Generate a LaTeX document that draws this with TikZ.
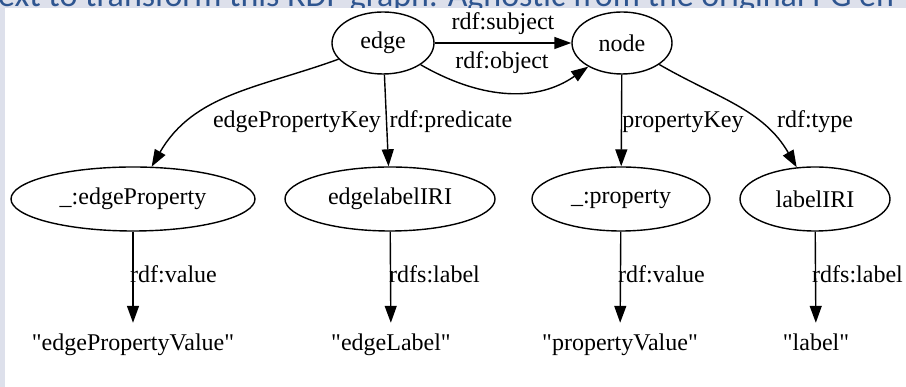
\documentclass[tikz,border=0pt]{standalone}
\usepackage{fontspec}
\setmainfont{Liberation Serif}
\newfontfamily\slidefont{Carlito}
\usepackage{xcolor}
\definecolor{slideBlue}{HTML}{2E5590}
\definecolor{slideGrey}{HTML}{DDE0EB}
\usepackage{tikz}
\usetikzlibrary{arrows.meta,shapes.geometric}

\tikzset{
  res/.style={draw, ellipse, line width=1.4pt, inner sep=0pt, minimum height=64pt},
  lit/.style={inner sep=0pt, minimum height=44pt, text height=17pt, text depth=5pt},
  rel/.style={line width=1.4pt, -{Triangle[length=17pt,width=12pt]}},
  lbl/.style={inner sep=0pt, text height=17pt, text depth=5pt},
}
\newcommand{\qq}[1]{\textquotedbl#1\textquotedbl}

\begin{document}
\begin{tikzpicture}[x=1pt, y=1pt, font=\fontsize{24}{28}\selectfont]
  \useasboundingbox (0,0) rectangle (906,387);
  \clip (0,0) rectangle (906,387);
  % Slide behind the figure
  \fill[slideGrey] (0,0) rectangle (906,387);
  \node[overlay, anchor=base west, inner sep=0pt, text=slideBlue,
        font=\slidefont\fontsize{34}{40}\selectfont] (title) at (-2,380)
        {ext to transform this RDF graph. Agnostic from the original PG en};
  \fill[white] (5,0) rectangle (906,379);
  % Reified edge and its node
  \node[res, minimum width=102pt, minimum height=62pt] (edge) at (383,344) {edge};
  \node[res, minimum width=100pt, minimum height=62pt] (node) at (622,344) {node};
  % Resources one level down
  \node[res, minimum width=244pt] (eprop) at (133,188) {\_:edgeProperty};
  \node[res, minimum width=210pt] (elabel) at (390,188) {edgelabelIRI};
  \node[res, minimum width=178pt] (prop) at (621,188) {\_:property};
  \node[res, minimum width=150pt] (lblIRI) at (815,188) {labelIRI};
  % Literals
  \node[lit] (epval) at (133,42) {\qq{edgePropertyValue}};
  \node[lit] (elval) at (391,42) {\qq{edgeLabel}};
  \node[lit] (pval) at (620,42) {\qq{propertyValue}};
  \node[lit] (lval) at (816,42) {\qq{label}};
  % Connectors
  \draw[rel] (edge) -- (node);
  \draw[rel] (edge) to[out=-30, in=215] (node);
  \draw[rel] (edge) to[out=200, in=60] (eprop);
  \draw[rel] (edge) -- (elabel);
  \draw[rel] (node) -- (prop);
  \draw[rel] (node) to[out=-30, in=120] (lblIRI);
  \draw[rel] (eprop) -- (epval);
  \draw[rel] (elabel) -- (elval);
  \draw[rel] (prop) -- (pval);
  \draw[rel] (lblIRI) -- (lval);
  % Predicate labels
  \node[lbl] (subj) at (503,363) {rdf:subject};
  \node[lbl] (obj) at (502,324) {rdf:object};
  \node[lbl] (epkey) at (297,265) {edgePropertyKey};
  \node[lbl] (pred) at (451,265) {rdf:predicate};
  \node[lbl] (pkey) at (683,265) {propertyKey};
  \node[lbl] (type) at (815,265) {rdf:type};
  \node[lbl, anchor=west] (epvalue) at (130,110) {rdf:value};
  \node[lbl, anchor=west] (elrdfs) at (389,110) {rdfs:label};
  \node[lbl, anchor=west] (pvalue) at (618,110) {rdf:value};
  \node[lbl, anchor=west] (lrdfs) at (812,110) {rdfs:label};
\end{tikzpicture}
\end{document}
